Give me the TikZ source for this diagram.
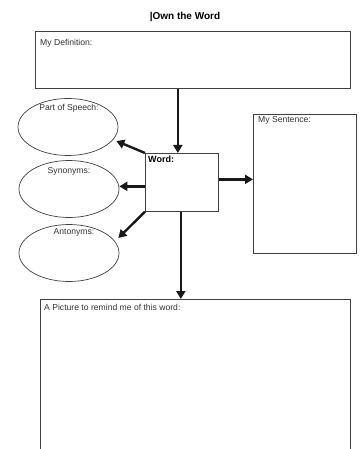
\documentclass[tikz,border=0pt]{standalone}
\usepackage{fontspec}
\setmainfont{Liberation Sans}
\usepackage{tikz}
\usetikzlibrary{shapes.geometric,arrows.meta}

\begin{document}
\begin{tikzpicture}[x=1pt,y=-1pt,
  box/.style={draw=black!75, line width=.7pt, anchor=north west, inner sep=0pt},
  bubble/.style={draw=black!75, line width=.7pt, ellipse, minimum width=100pt, minimum height=57pt, inner sep=0pt},
  lbl/.style={font=\fontsize{8.6}{10}\selectfont, text=black!80, inner sep=0pt},
  arr/.style={line width=2.4pt, black!90, -{Triangle[length=8pt,width=9pt]}}]
\useasboundingbox (0,0) rectangle (362,449);
\clip (0,0) rectangle (362,449);
\node[lbl, font=\bfseries\fontsize{10}{12}\selectfont, text=black] (title) at (185,17) {|Own the Word};
% boxes
\node[box, minimum width=315pt, minimum height=57pt] (def) at (35,31) {};
\node[box, minimum width=73pt, minimum height=58pt] (word) at (145,153) {};
\node[box, minimum width=103pt, minimum height=139pt] (sent) at (253,114) {};
\node[box, minimum width=310pt, minimum height=170pt] (pic) at (40,299) {};
% bubbles
\node[bubble] (pos) at (68,127) {};
\node[bubble] (syn) at (69,189) {};
\node[bubble] (ant) at (69,253) {};
% texts
\node[lbl, anchor=west] (deftxt) at (40,43) {My Definition:};
\node[lbl, anchor=west, font=\bfseries\fontsize{9}{10}\selectfont, text=black] (wordtxt) at (148,159) {Word:};
\node[lbl, anchor=west] (senttxt) at (258,120) {My Sentence:};
\node[lbl, anchor=west] (pictxt) at (44,307) {A Picture to remind me of this word:};
\node[lbl] (postxt) at (69,108) {Part of Speech:};
\node[lbl] (syntxt) at (69,171) {Synonyms:};
\node[lbl] (anttxt) at (74,232) {Antonyms:};
% arrows
\draw[arr] ([xshift=-4pt]word.north |- def.south) -- ([xshift=-4pt]word.north);
\draw[arr] (word.north west) -- ([shift={(-2,14)}]pos.east);
\draw[arr] ([yshift=-4pt]word.west) -- ([yshift=-4pt]word.west -| syn.east);
\draw[arr] (word.south west) -- ([shift={(-1,-15)}]ant.east);
\draw[arr] ([yshift=3pt]word.east) -- ([yshift=3pt]word.east -| sent.west);
\draw[arr] ([xshift=-1pt]word.south) -- ([xshift=-1pt]word.south |- pic.north);
\end{tikzpicture}
\end{document}
